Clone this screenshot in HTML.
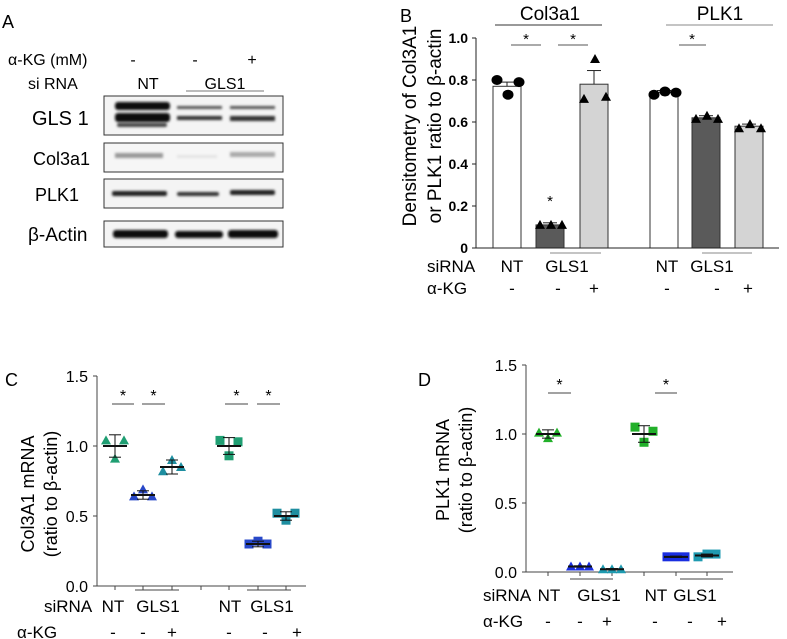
<!DOCTYPE html>
<html><head><meta charset="utf-8"><style>
body{margin:0;background:#fff;}
svg{display:block;font-family:"Liberation Sans",Arial,sans-serif;}
</style></head><body>
<svg id="fig" width="787" height="639" viewBox="0 0 787 639" xmlns="http://www.w3.org/2000/svg">
<defs>
<filter id="blur" x="-10%" y="-50%" width="120%" height="200%"><feGaussianBlur stdDeviation="1.2"/></filter>
</defs>
<!-- Panel A -->
<g font-size="16">
<text x="2" y="28" font-size="18">A</text>
<text x="8" y="65">α-KG (mM)</text>
<text x="133" y="65" text-anchor="middle">-</text><text x="195" y="65" text-anchor="middle">-</text><text x="252" y="65" text-anchor="middle">+</text>
<text x="28" y="89">si RNA</text>
<text x="148" y="89" text-anchor="middle">NT</text><text x="225" y="89" text-anchor="middle">GLS1</text>
<line x1="186" y1="91" x2="264" y2="91" stroke="#777" stroke-width="1"/>
<text x="32" y="125" font-size="20">GLS 1</text>
<text x="33" y="165" font-size="18">Col3a1</text>
<text x="35" y="201" font-size="18">PLK1</text>
<text x="28" y="241" font-size="19">β-Actin</text>
<g>
<rect x="104" y="96" width="179" height="39" fill="#f4f4f4" stroke="#333"/>
<g filter="url(#blur)" fill="#111">
<rect x="115" y="102" width="55" height="8" rx="3"/><rect x="115" y="113" width="55" height="9" rx="3"/><rect x="117" y="123" width="50" height="4" rx="2" fill="#444"/>
<rect x="177" y="106" width="45" height="3" fill="#555"/><rect x="177" y="116" width="45" height="4" fill="#333"/>
<rect x="230" y="106" width="45" height="3" fill="#555"/><rect x="230" y="116" width="45" height="5" fill="#333"/>
</g></g>
<g>
<rect x="104" y="143" width="179" height="29" fill="#f6f6f6" stroke="#333"/>
<g filter="url(#blur)"><rect x="115" y="153" width="48" height="5" fill="#999"/><rect x="177" y="155" width="40" height="3" fill="#e4e4e4"/><rect x="230" y="152" width="45" height="5" fill="#aaa"/></g></g>
<g>
<rect x="104" y="179" width="179" height="29" fill="#f4f4f4" stroke="#333"/>
<g filter="url(#blur)" fill="#222"><rect x="112" y="191" width="55" height="5" rx="2"/><rect x="177" y="192" width="42" height="4" rx="2" fill="#333"/><rect x="230" y="190" width="45" height="5" rx="2"/></g></g>
<g>
<rect x="104" y="221" width="179" height="26" fill="#f4f4f4" stroke="#333"/>
<g filter="url(#blur)" fill="#111"><rect x="113" y="230" width="55" height="8" rx="3"/><rect x="175" y="231" width="48" height="7" rx="3"/><rect x="228" y="230" width="50" height="8" rx="3"/></g></g>
</g>
<g id="pb"></g>
<g id="pc"></g>
<g id="pd"></g>
</svg>
<script>
// Panel B data
const bCats = ["NT","GLS1","GLS1+aKG","NT","GLS1","GLS1+aKG"];
const bMeans = [0.77, 0.11, 0.78, 0.74, 0.62, 0.58];
const bErr = [0.02, 0.01, 0.065, 0.01, 0.01, 0.01];
const bPts = [[0.80,0.73,0.79],[0.11,0.11,0.11],[0.71,0.90,0.72],[0.73,0.745,0.74],[0.615,0.63,0.615],[0.57,0.59,0.57]];
const bTicks = [0, 0.2, 0.4, 0.6, 0.8, 1.0];
const bTickLabels = ["0","0.2","0.4","0.6","0.8","1.0"];
// Panel C data
const cMeans = [1.0, 0.65, 0.85, 1.0, 0.30, 0.50];
const cErr = [0.08, 0.03, 0.05, 0.06, 0.02, 0.03];
const cPts = [[1.04,0.91,1.04],[0.64,0.69,0.64],[0.82,0.90,0.85],[1.04,0.93,1.03],[0.30,0.32,0.30],[0.52,0.47,0.52]];
// Panel D data
const dMeans = [1.0, 0.04, 0.02, 1.0, 0.11, 0.12];
const dErr = [0.03, 0.005, 0.005, 0.06, 0.005, 0.01];
const dPts = [[1.01,0.97,1.01],[0.04,0.04,0.04],[0.02,0.02,0.02],[1.05,0.94,1.02],[0.11,0.11,0.11],[0.11,0.13,0.13]];
const mrnaTicks = [0, 0.5, 1.0, 1.5];
const mrnaTickLabels = ["0.0","0.5","1.0","1.5"];

const NS="http://www.w3.org/2000/svg";
function mk(parent,tag,attrs,text){const e=document.createElementNS(NS,tag);for(const k in attrs)e.setAttribute(k,attrs[k]);if(text!==undefined)e.textContent=text;parent.appendChild(e);return e;}
function tri(g,x,y,s,fill){return mk(g,"polygon",{points:`${x},${y-s} ${x-s},${y+s*0.8} ${x+s},${y+s*0.8}`,fill:fill});}

// ---- Panel B ----
(function(){
const g=document.getElementById("pb");
const y0=248,y1=38; const yB=v=>y0-(v/1.0)*(y0-y1);
const barL=[493,536,580,650,692,735], bw=28;
const fills=["#fff","#5a5a5a","#d4d4d4","#fff","#5a5a5a","#d4d4d4"];
mk(g,"text",{x:400,y:22,"font-size":18},"B");
mk(g,"text",{x:550,y:20,"font-size":19,"text-anchor":"middle"},"Col3a1");
mk(g,"line",{x1:495,y1:25,x2:602,y2:25,stroke:"#333"});
mk(g,"text",{x:720,y:20,"font-size":19,"text-anchor":"middle"},"PLK1");
mk(g,"line",{x1:666,y1:25,x2:773,y2:25,stroke:"#888"});
bMeans.forEach((m,i)=>{
 const x=barL[i];
 const r=mk(g,"rect",{x:x,y:yB(m),width:bw,height:y0-yB(m),fill:fills[i],stroke:"#333","stroke-width":1});
 
 
 const cx=x+bw/2;
 mk(g,"line",{x1:cx,y1:yB(m+bErr[i]),x2:cx,y2:yB(m),stroke:"#222"});
 mk(g,"line",{x1:cx-7,y1:yB(m+bErr[i]),x2:cx+7,y2:yB(m+bErr[i]),stroke:"#222"});
 bPts[i].forEach((p,j)=>{
  const px=x+3+j*11;
  if(i===0||i===3){const c=mk(g,"ellipse",{cx:px+1,cy:yB(p),rx:5.5,ry:5,fill:"#000"});}
  else{const t=tri(g,px+1,yB(p),5,"#000");}
 });
});
mk(g,"line",{x1:476,y1:y1,x2:476,y2:y0,stroke:"#222"});
mk(g,"line",{x1:476,y1:y0,x2:779,y2:y0,stroke:"#222"});
bTicks.forEach((t,i)=>{
 mk(g,"line",{x1:472,y1:yB(t),x2:476,y2:yB(t),stroke:"#222"});
 mk(g,"text",{x:468,y:yB(t)+5,"font-size":14,"font-weight":"bold","text-anchor":"end"},bTickLabels[i]);
});
const yl=mk(g,"text",{transform:"translate(416,126) rotate(-90)","font-size":19,"text-anchor":"middle"},"Densitometry of Col3A1");

mk(g,"text",{transform:"translate(441,126) rotate(-90)","font-size":19,"text-anchor":"middle"},"or PLK1 ratio to β-actin");
[[511,541,526],[558,588,573],[679,706,692]].forEach(s=>{mk(g,"line",{x1:s[0],y1:45,x2:s[1],y2:45,stroke:"#555"});mk(g,"text",{x:s[2],y:44,"font-size":15,"text-anchor":"middle"},"*");});
mk(g,"text",{x:550,y:206,"font-size":15,"text-anchor":"middle"},"*");
mk(g,"text",{x:427,y:272,"font-size":17},"siRNA");
[["NT",512],["GLS1",567],["NT",667],["GLS1",712]].forEach(a=>mk(g,"text",{x:a[1],y:272,"font-size":17,"text-anchor":"middle"},a[0]));
mk(g,"line",{x1:550,y1:253,x2:601,y2:253,stroke:"#888"});mk(g,"line",{x1:702,y1:253,x2:752,y2:253,stroke:"#888"});
mk(g,"text",{x:427,y:294,"font-size":17},"α-KG");
[["-",512],["-",558],["+",594],["-",667],["-",717],["+",748]].forEach(a=>mk(g,"text",{x:a[1],y:294,"font-size":17,"text-anchor":"middle"},a[0]));
})();

// ---- dot panels ----
function dotPanel(cfg){
 const g=document.getElementById(cfg.id);
 const yS=v=>cfg.y0-(v/1.5)*(cfg.y0-cfg.y15);
 mk(g,"text",{x:cfg.lx,y:cfg.ly,"font-size":18},cfg.letter);
 mk(g,"line",{x1:cfg.ax,y1:cfg.y15,x2:cfg.ax,y2:cfg.y0,stroke:"#444"});
 mk(g,"line",{x1:cfg.ax,y1:cfg.y0,x2:cfg.axEnd,y2:cfg.y0,stroke:"#444"});
 mrnaTicks.forEach((t,i)=>{
  mk(g,"line",{x1:cfg.ax-4,y1:yS(t),x2:cfg.ax,y2:yS(t),stroke:"#444"});
  mk(g,"text",{x:cfg.ax-9,y:yS(t)+6,"font-size":16,"text-anchor":"end"},mrnaTickLabels[i]);
 });
 cfg.ticks.forEach(x=>mk(g,"line",{x1:x,y1:cfg.y0,x2:x,y2:cfg.y0+4,stroke:"#444"}));
 const cols=cfg.cols;
 cfg.means.forEach((m,i)=>{
  const cx=cfg.pos[i];
  cfg.pts[i].forEach((p,j)=>{
   const px=cx+(j-1)*9;
   let e;
   if(i<3) e=tri(g,px,yS(p),5,cols[i]);
   else e=mk(g,"rect",{x:px-4.5,y:yS(p)-4.5,width:9,height:9,fill:cols[i]});
   
   
  });
  const e=cfg.err[i];
  mk(g,"line",{x1:cx,y1:yS(m+e),x2:cx,y2:yS(m-e),stroke:"#111"});
  mk(g,"line",{x1:cx-6,y1:yS(m+e),x2:cx+6,y2:yS(m+e),stroke:"#111"});
  mk(g,"line",{x1:cx-6,y1:yS(m-e),x2:cx+6,y2:yS(m-e),stroke:"#111"});
  mk(g,"line",{x1:cx-12,y1:yS(m),x2:cx+12,y2:yS(m),stroke:"#111","stroke-width":2});
 });
 cfg.sig.forEach(s=>{mk(g,"line",{x1:s[0],y1:cfg.sigY,x2:s[1],y2:cfg.sigY,stroke:"#444"});mk(g,"text",{x:(s[0]+s[1])/2,y:cfg.sigY-3,"font-size":16,"text-anchor":"middle"},"*");});
 const t1=mk(g,"text",{transform:`translate(${cfg.tx},${cfg.ty}) rotate(-90)`,"font-size":18,"text-anchor":"middle"},cfg.title);
 
 mk(g,"text",{transform:`translate(${cfg.tx+23},${cfg.ty}) rotate(-90)`,"font-size":18,"text-anchor":"middle"},"(ratio to β-actin)");
 cfg.under.forEach(u=>mk(g,"line",{x1:u[0],y1:cfg.uy,x2:u[1],y2:cfg.uy,stroke:"#444"}));
 mk(g,"text",{x:cfg.sx,y:cfg.r1,"font-size":17},"siRNA");
 cfg.row1.forEach(a=>mk(g,"text",{x:a[1],y:cfg.r1,"font-size":17,"text-anchor":"middle"},a[0]));
 mk(g,"text",{x:cfg.kx,y:cfg.r2,"font-size":17},"α-KG");
 cfg.row2.forEach(a=>mk(g,"text",{x:a[1],y:cfg.r2,"font-size":17,"text-anchor":"middle"},a[0]));
}
dotPanel({id:"pc",letter:"C",lx:5,ly:386,ax:97,axEnd:306,y0:586,y15:376,
 ticks:[115,143,172,201,229,258,286],pos:[115,143,172,229,258,286],
 means:cMeans,err:cErr,pts:cPts,cols:["#1f9e72","#2848c8","#1e8ea0","#1f9e72","#2848c8","#1e8ea0"],
 sig:[[112,134],[142,165],[225,248],[257,280]],sigY:404,title:"Col3A1 mRNA",tx:34,ty:494,
 under:[[135,179],[247,291]],uy:590,sx:44,r1:612,row1:[["NT",113],["GLS1",158],["NT",230],["GLS1",272]],
 kx:17,r2:638,row2:[["-",113],["-",143],["+",172],["-",229],["-",265],["+",297]]});
dotPanel({id:"pd",letter:"D",lx:418,ly:386,ax:526,axEnd:733,y0:572,y15:365,
 ticks:[548,580,612,644,676,707],pos:[548,580,612,644,676,707],
 means:dMeans,err:dErr,pts:dPts,cols:["#22b02a","#1a2ee0","#1e9ab0","#22b02a","#1a2ee0","#1e9ab0"],
 sig:[[548,571],[655,677]],sigY:393,title:"PLK1 mRNA",tx:449,ty:470,
 under:[[570,613],[680,723]],uy:579,sx:483,r1:601,row1:[["NT",549],["GLS1",599],["NT",656],["GLS1",695]],
 kx:483,r2:627,row2:[["-",548],["-",580],["+",607],["-",655],["-",690],["+",722]]});
</script>
</body></html>
